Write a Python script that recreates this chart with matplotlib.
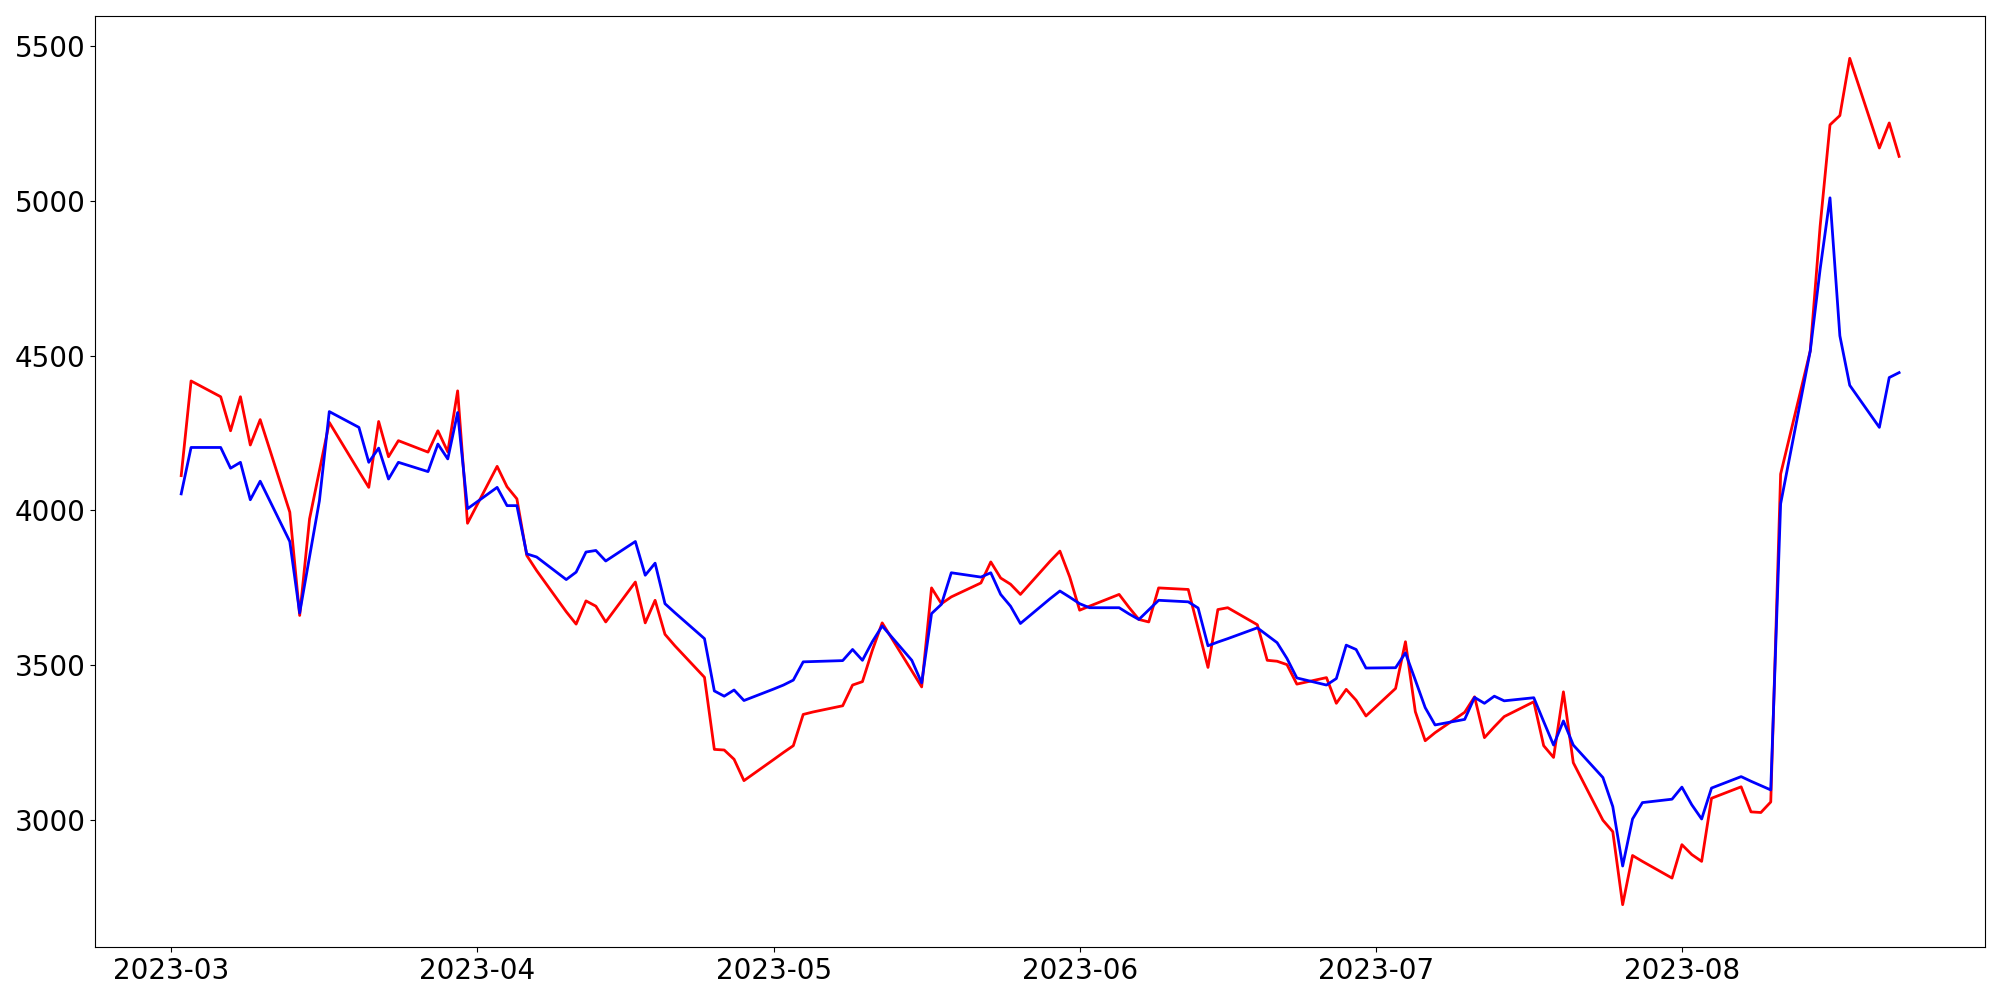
import matplotlib
matplotlib.use("Agg")
import matplotlib.pyplot as plt
import pandas as pd

# Trading days (weekdays) shown on the x axis
dates = pd.bdate_range("2023-03-02", "2023-08-23")

red_values = [
    # March
    4112, 4418, 4367, 4257, 4367, 4211, 4293, 3994, 3660, 3972, 4128, 4284,
    4126, 4074, 4287, 4173, 4225, 4188, 4257, 4189, 4386, 3958,
    # April
    4142, 4076, 4037, 3854, 3805, 3672, 3632, 3707, 3690, 3639, 3768, 3636,
    3709, 3599, 3562, 3460, 3227, 3225, 3195, 3126,
    # May
    3194, 3217, 3239, 3340, 3348, 3368, 3435, 3446, 3547, 3636, 3481, 3429,
    3749, 3698, 3720, 3765, 3833, 3781, 3761, 3728, 3835, 3868, 3784,
    # June
    3677, 3690, 3728, 3686, 3647, 3639, 3749, 3744, 3618, 3492, 3679, 3685,
    3630, 3515, 3512, 3501, 3438, 3459, 3376, 3421, 3386, 3335,
    # July
    3424, 3575, 3349, 3255, 3281, 3347, 3397, 3265, 3300, 3333, 3381, 3239,
    3201, 3413, 3184, 2998, 2961, 2725, 2884, 2865, 2811,
    # August
    2919, 2887, 2865, 3069, 3106, 3025, 3023, 3057, 4117, 4515, 4918, 5246,
    5276, 5461, 5171, 5252, 5144,
]

blue_values = [
    # March
    4053, 4203, 4203, 4136, 4155, 4034, 4094, 3899, 3668, 3850, 4031, 4319,
    4268, 4155, 4201, 4101, 4155, 4125, 4214, 4166, 4316, 4005,
    # April
    4074, 4015, 4015, 3859, 3849, 3776, 3800, 3865, 3870, 3836, 3899, 3790,
    3829, 3698, 3669, 3585, 3416, 3399, 3419, 3385,
    # May
    3422, 3435, 3451, 3510, 3511, 3514, 3550, 3515, 3575, 3626, 3515, 3442,
    3666, 3696, 3798, 3784, 3798, 3728, 3690, 3634, 3714, 3739, 3719,
    # June
    3698, 3685, 3685, 3665, 3647, 3678, 3709, 3704, 3684, 3562, 3574, 3585,
    3620, 3596, 3572, 3521, 3458, 3435, 3456, 3564, 3550, 3490,
    # July
    3491, 3539, 3451, 3362, 3306, 3324, 3395, 3376, 3399, 3384, 3394, 3317,
    3241, 3319, 3241, 3136, 3042, 2850, 3002, 3055, 3066,
    # August
    3105, 3048, 3002, 3102, 3139, 3124, 3110, 3096, 4021, 4515, 4779, 5010,
    4564, 4404, 4268, 4429, 4445,
]

fig = plt.figure(figsize=(20, 10), dpi=100)
ax = fig.add_axes([0.04765, 0.053, 0.94485, 0.931])
ax.plot(dates, red_values, color="red", linewidth=2)
ax.plot(dates, blue_values, color="blue", linewidth=2)
ax.tick_params(axis="both", labelsize=20)
fig.savefig("out.png", dpi=100)
